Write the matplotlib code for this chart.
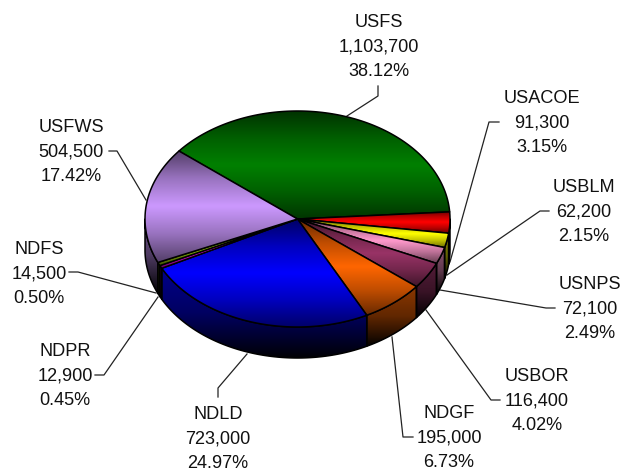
#!/usr/bin/env python3
# -*- coding: utf-8 -*-
"""Pie "3D" des surfaces par agence, dessine a la main avec des polygones."""

import numpy as np
import matplotlib
matplotlib.use("Agg")
import matplotlib.pyplot as plt
from matplotlib.colors import to_rgb
from matplotlib.patches import Polygon

names = ["USFS", "USACOE", "USBLM", "USNPS", "USBOR", "NDGF", "NDLD", "NDPR", "NDFS", "USFWS"]
values = [1103700, 91300, 62200, 72100, 116400, 195000, 723000, 12900, 14500, 504500]
percents = [38.12, 3.15, 2.15, 2.49, 4.02, 6.73, 24.97, 0.45, 0.50, 17.42]
colors = ["#008000", "#FF0000", "#FFFF00", "#FF99CC", "#993366",
          "#FF6600", "#0000FF", "#FF00FF", "#99CC00", "#CC99FF"]

# position du centre de chaque etiquette (ligne du milieu)
label_x = [379, 542, 584, 590, 537, 449, 218, 65, 39, 71]
label_y = [47, 123, 212, 309, 401, 438, 439, 376, 274, 152]

# traits de rappel
leaders = [
    [(378, 86), (378, 96), (347, 116)],
    [(499, 122), (489, 122), (450, 262)],
    [(549, 211), (540, 211), (447, 275)],
    [(555, 308), (546, 308), (440, 290)],
    [(500, 400), (491, 400), (426, 310)],
    [(413, 437), (403, 437), (392, 337)],
    [(218, 397), (218, 388), (247, 354)],
    [(95, 375), (104, 375), (158, 297)],
    [(69, 272), (78, 272), (156, 293)],
    [(109, 151), (117, 151), (146, 200)],
]

CX, CY = 297.5, 219
RX, RY = 152.5, 108
DEPTH = 31
START = 141

plt.rcParams['font.family'] = ['Liberation Sans', 'DejaVu Sans']


def ellipse_pts(a, b, dy=0, n=None):
    """Points de l'ellipse entre les angles a et b (degres)."""
    if n is None:
        n = max(2, int(abs(b - a)) * 2 + 2)
    t = np.radians(np.linspace(a, b, n))
    return np.column_stack([CX + RX * np.cos(t), CY + dy - RY * np.sin(t)])


def fill_gradient(ax, pts, color, stops, zorder):
    """Polygone rempli d'un degrade vertical, contour noir."""
    rgb = np.array(to_rgb(color))
    ramp = np.interp(np.linspace(0, 1, 64), np.linspace(0, 1, len(stops)), stops)
    img = (ramp[:, None, None] * rgb[None, None, :]).clip(0, 1)
    x0, x1 = pts[:, 0].min(), pts[:, 0].max()
    y0, y1 = pts[:, 1].min(), pts[:, 1].max()
    im = ax.imshow(img, extent=(x0, x1, y1, y0), aspect='auto',
                   interpolation='bilinear', zorder=zorder)
    patch = Polygon(pts, closed=True, facecolor='none', edgecolor='black',
                    linewidth=1.1, joinstyle='round', zorder=zorder + 0.1)
    ax.add_patch(patch)
    im.set_clip_path(patch)


fig = plt.figure(figsize=(6.27, 4.72), dpi=100)
ax = fig.add_axes([0, 0, 1, 1])

fractions = np.array(values) / np.sum(values) * 360
ends = START - np.cumsum(fractions)
starts = ends + fractions

# flancs : seulement la moitie avant de l'ellipse
for a, b, c in zip(starts, ends, colors):
    lo, hi = b, a
    # ramene les angles sur la plage 180..360
    for shift in (0, 360):
        s_hi = min(hi + shift, 360)
        s_lo = max(lo + shift, 180)
        if s_hi > s_lo:
            top = ellipse_pts(s_lo, s_hi)
            bot = ellipse_pts(s_hi, s_lo, dy=DEPTH)
            fill_gradient(ax, np.vstack([top, bot]), c, [0.55, 0.38, 0.02], 2)

# face du dessus
for i, (a, b, c) in enumerate(zip(starts, ends, colors)):
    pts = np.vstack([[CX, CY], ellipse_pts(a, b)])
    fill_gradient(ax, pts, c, [0.4, 0.75, 1.0, 0.75, 0.42], 3 + i * 0.2)

for pts in leaders:
    xs, ys = zip(*pts)
    ax.plot(xs, ys, color='#222222', linewidth=0.9, zorder=1)

for name, val, pct, x, y in zip(names, values, percents, label_x, label_y):
    ax.text(x, y, f"{name}\n{val:,}\n{pct:.2f}%", ha='center', va='center',
            fontsize=13.1, linespacing=1.6, color='#111111', zorder=10)

ax.set_xlim(0, 627)
ax.set_ylim(472, 0)
ax.axis('off')

fig.savefig('out.png', dpi=100, facecolor='white')
